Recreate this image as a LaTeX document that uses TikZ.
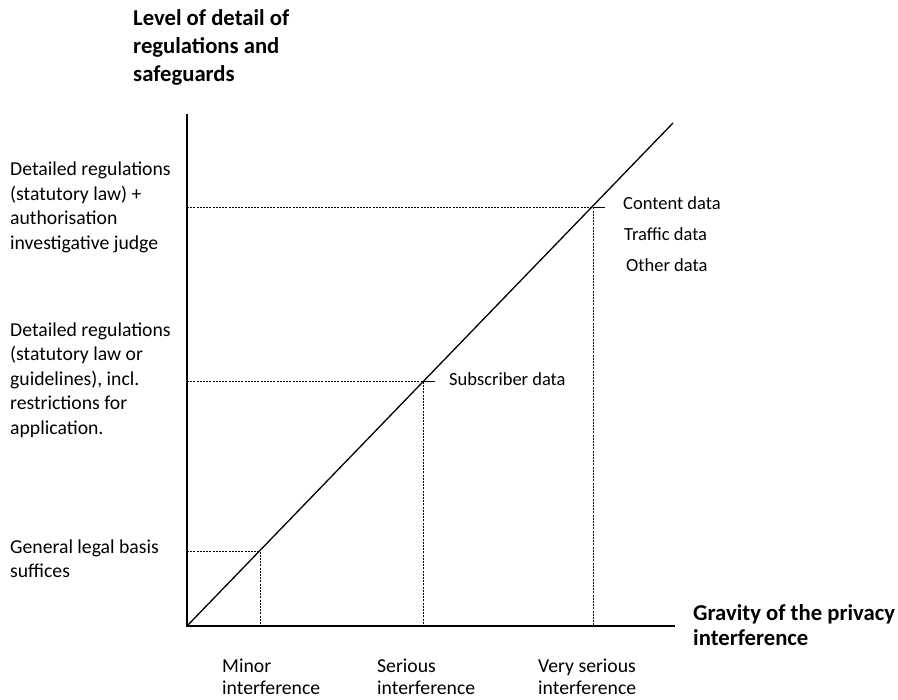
\documentclass[tikz,border=0pt]{standalone}
\usepackage{fontspec}
\setmainfont{Carlito}
\begin{document}
\begin{tikzpicture}[x=1pt,y=-1pt,
  axisline/.style={line width=2pt,line join=miter},
  diagline/.style={line width=1.3pt},
  guide/.style={line width=0.7pt,dash pattern=on 2pt off 1.2pt},
  tickline/.style={line width=0.9pt},
  leftlbl/.style={anchor=base west,inner sep=0pt,align=left,font=\fontsize{19.7}{24.5}\selectfont},
  titlelbl/.style={anchor=base west,inner sep=0pt,align=left,font=\fontsize{22.7}{28}\selectfont\bfseries},
  datalbl/.style={anchor=base west,inner sep=0pt,font=\fontsize{18.5}{22}\selectfont},
  botlbl/.style={anchor=base west,inner sep=0pt,align=left,font=\fontsize{19.7}{22}\selectfont},
  gravlbl/.style={anchor=base west,inner sep=0pt,align=left,font=\fontsize{22.7}{25}\selectfont\bfseries}]
\useasboundingbox (0,0) rectangle (898,700);
% axes
\coordinate (O) at (187,626);
\coordinate (Y) at (187,114);
\coordinate (X) at (675,626);
\coordinate (D) at (673,123);
\draw[axisline] (Y) -- (O) -- (X);
\draw[diagline] (O) -- (D);
% guide points
\coordinate (P1) at (593,207);
\coordinate (P2) at (423,381);
\coordinate (P3) at (260,551);
\coordinate (L1) at (187,207);
\coordinate (L2) at (187,381);
\coordinate (L3) at (187,551);
\coordinate (B1) at (593,626);
\coordinate (B2) at (423,626);
\coordinate (B3) at (260,626);
\coordinate (T1) at (605,207);
\coordinate (T2) at (435,381);
\draw[guide] (L1) -- (P1) -- (B1);
\draw[guide] (L2) -- (P2) -- (B2);
\draw[guide] (L3) -- (P3) -- (B3);
\draw[tickline] (P1) -- (T1);
\draw[tickline] (P2) -- (T2);
% labels
\node[titlelbl] (title) at (133,82) {Level of detail of\\regulations and\\safeguards};
\node[leftlbl] (lvl1) at (10,249.5) {Detailed regulations\\(statutory law) +\\authorisation\\investigative judge};
\node[leftlbl] (lvl2) at (10,434.5) {Detailed regulations\\(statutory law or\\guidelines), incl.\\restrictions for\\application.};
\node[leftlbl] (lvl3) at (10,578) {General legal basis\\suffices};
\node[datalbl] (content) at (623,209.5) {Content data};
\node[datalbl] (traffic) at (624,240.5) {Traffic data};
\node[datalbl] (other) at (626,271.5) {Other data};
\node[datalbl] (subscr) at (449,385.5) {Subscriber data};
\node[gravlbl] (grav) at (693,645.5) {Gravity of the privacy\\interference};
\node[botlbl] (minor) at (222,695) {Minor\\interference};
\node[botlbl] (serious) at (377,695) {Serious\\interference};
\node[botlbl] (vserious) at (538,695) {Very serious\\interference};
\end{tikzpicture}
\end{document}
